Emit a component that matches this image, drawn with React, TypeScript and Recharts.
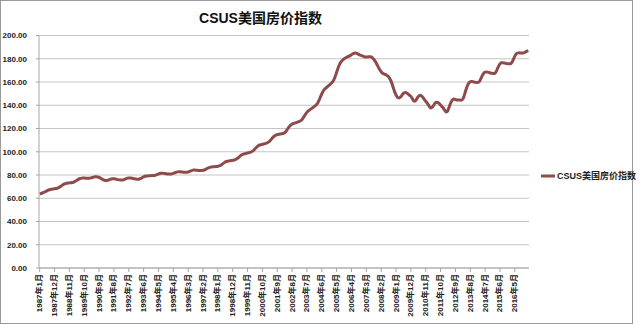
import React from 'react';
import { LineChart, Line, XAxis, YAxis, CartesianGrid, Legend } from 'recharts';

const chartTitle = 'CSUS美国房价指数';
const seriesName = 'CSUS美国房价指数';
const startYear = 1987;
const yTicks = [0, 20, 40, 60, 80, 100, 120, 140, 160, 180, 200];

// Monthly index values, Jan 1987 - Mar 2017 (12 per row = one year)
const indexValues = [
  63.8, 64.1, 64.5, 65.0, 65.6, 66.2, 66.8, 67.3, 67.6, 67.8, 68.0, 68.2,
  68.4, 68.6, 69.1, 69.8, 70.6, 71.4, 72.1, 72.6, 72.9, 73.1, 73.2, 73.3,
  73.5, 73.8, 74.3, 75.0, 75.8, 76.5, 77.0, 77.3, 77.4, 77.4, 77.3, 77.2,
  77.2, 77.3, 77.5, 77.8, 78.2, 78.4, 78.5, 78.3, 77.9, 77.3, 76.6, 76.0,
  75.5, 75.2, 75.3, 75.7, 76.2, 76.6, 76.8, 76.8, 76.6, 76.3, 76.0, 75.8,
  75.7, 75.6, 75.8, 76.3, 76.9, 77.3, 77.5, 77.5, 77.3, 77.0, 76.8, 76.6,
  76.4, 76.3, 76.6, 77.1, 77.8, 78.4, 78.9, 79.1, 79.2, 79.3, 79.4, 79.5,
  79.5, 79.6, 79.9, 80.4, 80.9, 81.3, 81.5, 81.5, 81.4, 81.2, 81.0, 80.9,
  80.8, 80.8, 81.0, 81.4, 81.9, 82.4, 82.7, 82.8, 82.7, 82.6, 82.5, 82.4,
  82.4, 82.4, 82.6, 83.1, 83.6, 84.0, 84.2, 84.2, 84.1, 84.0, 83.9, 83.9,
  83.9, 84.0, 84.3, 84.9, 85.6, 86.2, 86.6, 86.9, 87.0, 87.1, 87.2, 87.3,
  87.5, 87.8, 88.3, 89.1, 90.0, 90.8, 91.4, 91.8, 92.0, 92.2, 92.4, 92.6,
  92.9, 93.3, 93.9, 94.8, 95.8, 96.8, 97.5, 98.0, 98.3, 98.6, 98.9, 99.2,
  99.6, 100.0, 100.7, 101.8, 103.1, 104.3, 105.2, 105.8, 106.1, 106.4, 106.7, 107.0,
  107.4, 107.9, 108.7, 109.9, 111.3, 112.6, 113.6, 114.3, 114.7, 115.0, 115.2, 115.4,
  115.6, 116.0, 116.9, 118.4, 120.2, 121.8, 123.0, 123.8, 124.3, 124.7, 125.1, 125.5,
  125.9, 126.4, 127.3, 128.8, 130.6, 132.4, 133.9, 135.1, 136.0, 136.9, 137.7, 138.5,
  139.4, 140.4, 142.0, 144.4, 147.2, 149.9, 152.1, 153.7, 154.8, 155.8, 156.8, 157.8,
  158.9, 160.1, 162.0, 164.9, 168.4, 171.9, 174.8, 176.9, 178.3, 179.4, 180.3, 181.1,
  181.7, 182.1, 182.7, 183.5, 184.3, 184.8, 184.9, 184.6, 184.0, 183.4, 182.9, 182.5,
  182.0, 181.5, 181.4, 181.6, 181.8, 181.7, 181.2, 180.2, 178.8, 177.0, 174.8, 172.5,
  170.5, 168.8, 167.5, 167.0, 166.5, 165.8, 165.0, 163.5, 161.5, 158.6, 155.0, 151.5,
  148.8, 146.9, 146.3, 146.8, 148.0, 149.6, 150.6, 150.9, 150.5, 149.6, 148.6, 147.6,
  145.8, 143.8, 143.4, 144.8, 146.8, 148.2, 148.5, 147.9, 146.6, 145.0, 143.4, 142.0,
  140.3, 138.5, 137.6, 138.5, 140.2, 141.9, 142.6, 142.4, 141.5, 140.2, 138.8, 137.6,
  135.8, 134.3, 134.6, 137.4, 140.6, 143.3, 144.8, 145.3, 144.9, 144.6, 144.5, 144.5,
  144.4, 144.6, 146.5, 150.1, 154.0, 157.2, 159.3, 160.3, 160.4, 160.2, 159.8, 159.7,
  159.6, 159.7, 160.9, 163.3, 165.8, 167.6, 168.5, 168.7, 168.5, 168.1, 167.7, 167.5,
  167.3, 167.3, 168.6, 171.1, 173.7, 175.6, 176.5, 176.6, 176.4, 176.1, 175.8, 175.7,
  175.6, 175.7, 177.1, 179.7, 182.3, 184.1, 184.9, 185.1, 185.0, 184.9, 185.0, 185.3,
  185.9, 186.5, 187.0,
];

const monthLabels = indexValues.map((_, i) => `${startYear + Math.floor(i / 12)}年${(i % 12) + 1}月`);
const data = monthLabels.map((label, i) => ({ label, value: indexValues[i] }));

const FONT = '"Liberation Sans", "Noto Sans CJK SC", sans-serif';
const LINE_COLOR = '#8E4B4B';

const XTick = (props: any) => {
  const { x, y, payload } = props;
  return (
    <text
      x={x}
      y={y}
      transform={`rotate(-90 ${x} ${y})`}
      textAnchor="end"
      dominantBaseline="central"
      fontSize={8}
      fontWeight="bold"
      fill="#222"
      fontFamily={FONT}
    >
      {payload.value}
    </text>
  );
};

const LegendContent = () => (
  <div style={{ display: 'flex', alignItems: 'center', fontFamily: FONT, fontSize: 9, fontWeight: 'bold', color: '#222', whiteSpace: 'nowrap' }}>
    <svg width={16} height={6} style={{ marginRight: 1 }}>
      <line x1={1} y1={3} x2={15} y2={3} stroke={LINE_COLOR} strokeWidth={3} />
    </svg>
    <span>{seriesName}</span>
  </div>
);

export default function App() {
  return (
    <div style={{ position: 'absolute', left: 0, top: 0, width: 640, height: 325, background: '#fff' }}>
      <div style={{ position: 'absolute', left: 0, top: 0, width: 631, height: 322, border: '1px solid #9a9a9a' }} />
      <div
        style={{
          position: 'absolute',
          left: 0,
          width: 521,
          top: 8,
          textAlign: 'center',
          fontFamily: FONT,
          fontSize: 14,
          fontWeight: 'bold',
          color: '#111',
          lineHeight: '20px',
        }}
      >
        {chartTitle}
      </div>
      <div style={{ position: 'absolute', left: 0, top: 0 }}>
        <LineChart width={640} height={325} data={data} margin={{ top: 35.5, right: 111, bottom: 0, left: 0 }}>
          <CartesianGrid vertical={false} stroke="#c4c4c4" strokeWidth={1} />
          <XAxis
            dataKey="label"
            scale="band"
            interval={10}
            height={57}
            tick={<XTick />}
            tickSize={4}
            tickMargin={2}
            axisLine={{ stroke: '#a6a6a6' }}
            tickLine={{ stroke: '#a6a6a6' }}
          />
          <YAxis
            domain={[0, 200]}
            ticks={yTicks}
            width={39}
            tickFormatter={(v: number) => v.toFixed(2)}
            tick={{ fontSize: 8, fontWeight: 'bold', fill: '#222', fontFamily: FONT }}
            tickSize={3}
            tickMargin={9}
            axisLine={{ stroke: '#a6a6a6' }}
            tickLine={{ stroke: '#a6a6a6' }}
          />
          <Legend
            layout="horizontal"
            align="center"
            verticalAlign="middle"
            content={<LegendContent />}
            wrapperStyle={{ position: 'absolute', left: 540, top: 169, width: 100, height: 12 }}
          />
          <Line
            type="monotone"
            dataKey="value"
            name={seriesName}
            stroke={LINE_COLOR}
            strokeWidth={3}
            dot={false}
            isAnimationActive={false}
          />
        </LineChart>
      </div>
    </div>
  );
}
